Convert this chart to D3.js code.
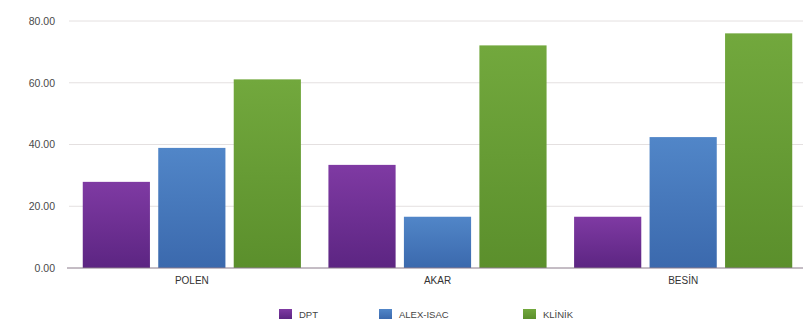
<!DOCTYPE html>
<html lang="tr">
<head>
<meta charset="UTF-8">
<title>Chart</title>
<script src="https://d3js.org/d3.v7.min.js"></script>
<style>
    body { margin: 0; background: #fff; }
    svg text { font-family: "Liberation Sans", Arial, sans-serif; fill: #444; }
</style>
</head>
<body>
<svg id="chart" width="803" height="321"></svg>
<script>
    // Data
    const categories = ["POLEN", "AKAR", "BESİN"];
    const seriesNames = ["DPT", "ALEX-ISAC", "KLİNİK"];
    const dpt = [27.9, 33.4, 16.6];
    const alex = [38.9, 16.6, 42.4];
    const klinik = [61.1, 72.1, 76.0];
    const yTicks = [0, 20, 40, 60, 80];

    const seriesValues = [dpt, alex, klinik];
    const colors = [
        { top: "#7f3aa3", bottom: "#5c2582" },
        { top: "#5186c8", bottom: "#3b69ad" },
        { top: "#72a83d", bottom: "#5b8f2c" }
    ];

    const margin = { top: 21, right: -3, bottom: 53, left: 69 },
        width = 803 - margin.left - margin.right,
        height = 321 - margin.top - margin.bottom;

    const svg = d3.select("#chart");

    // Gradients
    const defs = svg.append("defs");
    colors.forEach((c, i) => {
        const g = defs.append("linearGradient")
            .attr("id", "grad" + i)
            .attr("x1", 0).attr("y1", 0).attr("x2", 0).attr("y2", 1);
        g.append("stop").attr("offset", "0%").attr("stop-color", c.top);
        g.append("stop").attr("offset", "100%").attr("stop-color", c.bottom);
    });

    const chart = svg.append("g")
        .attr("transform", "translate(" + margin.left + "," + margin.top + ")");

    const x0 = d3.scaleBand()
        .domain(categories)
        .range([0, width])
        .paddingInner(0.112)
        .paddingOuter(0.056);

    const x1 = d3.scaleBand()
        .domain(seriesNames)
        .range([0, x0.bandwidth()])
        .paddingInner(0.11)
        .paddingOuter(0);

    const y = d3.scaleLinear()
        .domain([0, 80])
        .range([height, 0]);

    // Gridlines
    chart.append("g")
        .selectAll("line")
        .data(yTicks.filter(d => d > 0))
        .join("line")
        .attr("x1", 0)
        .attr("x2", width)
        .attr("y1", d => y(d))
        .attr("y2", d => y(d))
        .attr("stroke", "#e4e0e0")
        .attr("stroke-width", 1);

    // Y axis labels
    const yAxis = chart.append("g")
        .call(d3.axisLeft(y).tickValues(yTicks).tickFormat(d3.format(".2f")).tickSize(0).tickPadding(14));
    yAxis.select(".domain").remove();
    yAxis.selectAll("text").attr("font-size", 10.5).style("fill", "#4a4a4a");

    // Bars
    const groups = chart.selectAll("g.group")
        .data(categories)
        .join("g")
        .attr("class", "group")
        .attr("transform", d => "translate(" + x0(d) + ",0)");

    groups.selectAll("rect")
        .data((d, ci) => seriesNames.map((s, si) => ({ s: s, si: si, v: seriesValues[si][ci] })))
        .join("rect")
        .attr("x", d => x1(d.s))
        .attr("y", d => y(d.v))
        .attr("width", x1.bandwidth())
        .attr("height", d => y(0) - y(d.v))
        .attr("fill", d => "url(#grad" + d.si + ")");

    // Baseline
    chart.append("line")
        .attr("x1", -2)
        .attr("x2", width)
        .attr("y1", y(0))
        .attr("y2", y(0))
        .attr("stroke", "#8a7a8a")
        .attr("stroke-width", 1);

    // X axis labels
    const xAxis = chart.append("g")
        .attr("transform", "translate(0," + height + ")")
        .call(d3.axisBottom(x0).tickSize(0).tickPadding(9));
    xAxis.select(".domain").remove();
    xAxis.selectAll("text").attr("font-size", 10).style("fill", "#333");

    // Legend
    const legendX = [279, 379, 523];
    const legend = svg.append("g")
        .selectAll("g")
        .data(seriesNames)
        .join("g")
        .attr("transform", (d, i) => "translate(" + legendX[i] + ",309)");
    legend.append("rect")
        .attr("width", 13)
        .attr("height", 10)
        .attr("fill", (d, i) => "url(#grad" + i + ")");
    legend.append("text")
        .attr("x", 20)
        .attr("y", 9)
        .attr("font-size", 9.5)
        .style("fill", "#444")
        .text(d => d);
</script>
</body>
</html>
